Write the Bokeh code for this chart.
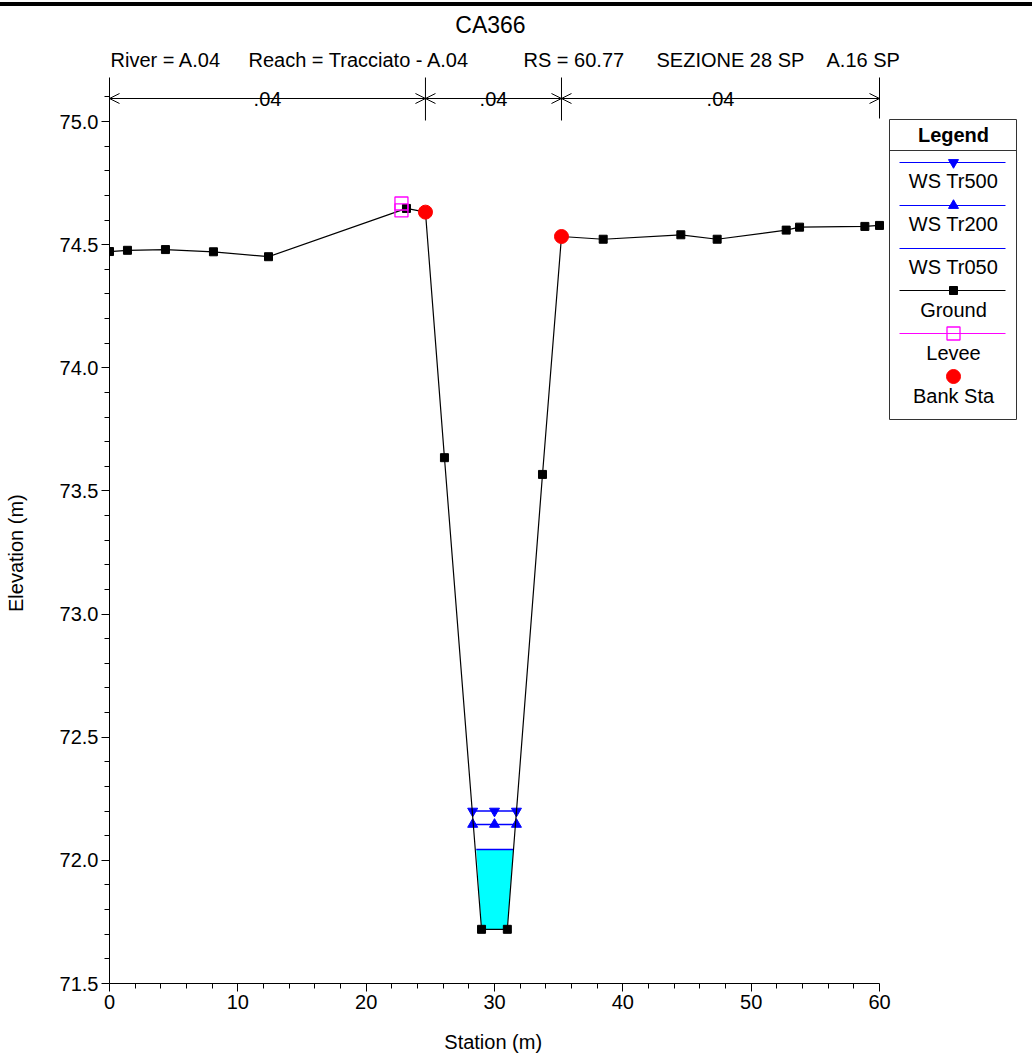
import math
from bokeh.plotting import figure
from bokeh.models import (Range1d, Arrow, OpenHead, FixedTicker, PrintfTickFormatter,
                          InlineStyleSheet)
from bokeh.core.properties import value
from bokeh.embed import file_html
from bokeh.resources import INLINE

# ---------------- data ----------------
title = "CA366"
subtitle_parts = ["River = A.04", "Reach = Tracciato - A.04", "RS = 60.77", "SEZIONE 28 SP", "A.16 SP"]
x_label = "Station (m)"
y_label = "Elevation (m)"

ground_sta = [0.0, 1.4, 4.36, 8.1, 12.39, 23.14, 24.62, 26.1, 28.99, 31.0, 33.74, 35.22,
              38.47, 44.52, 47.35, 52.73, 53.77, 58.86, 60.0]
ground_elev = [74.472, 74.477, 74.48, 74.471, 74.451, 74.647, 74.632, 73.635, 71.72, 71.72,
               73.567, 74.533, 74.522, 74.54, 74.522, 74.559, 74.571, 74.574, 74.578]

bank_sta = [24.62, 35.22]
bank_elev = [74.632, 74.533]

levee_sta = [22.75, 22.75]
levee_elev = [74.667, 74.639]

manning_edges = [0.0, 24.62, 35.22, 60.0]
manning_n = [".04", ".04", ".04"]

ws_names = ["WS Tr500", "WS Tr200", "WS Tr050"]
ws_elev = [72.20, 72.146, 72.044]
ws_left = [28.30, 28.26, 28.58]
ws_right = [31.71, 31.71, 31.46]
ws_marker_sta = [28.30, 30.0, 31.71]

water_sta = [28.58, 28.99, 31.0, 31.46]
water_elev = [72.044, 71.72, 71.72, 72.044]

x_ticks = [0, 10, 20, 30, 40, 50, 60]
x_minor = [2, 4, 6, 8, 12, 14, 16, 18, 22, 24, 26, 28, 32, 34, 36, 38, 42, 44, 46, 48, 52, 54, 56, 58]
y_ticks = [71.5, 72.0, 72.5, 73.0, 73.5, 74.0, 74.5, 75.0]
y_minor = [71.6, 71.7, 71.8, 71.9, 72.1, 72.2, 72.3, 72.4, 72.6, 72.7, 72.8, 72.9,
           73.1, 73.2, 73.3, 73.4, 73.6, 73.7, 73.8, 73.9, 74.1, 74.2, 74.3, 74.4,
           74.6, 74.7, 74.8, 74.9, 75.1]

# ---------------- layout helpers (page pixels -> data) ----------------
PXU = 770.0 / 60.0
PYU = 862.0 / 3.5
def X(px):
    return (px - 109.0) / PXU
def Y(py):
    return 75.0 - (py - 121.0) / PYU

FONT = value("Liberation Sans")
BLUE = "#0000FF"
NBSP = "\u00a0"

W, H = 1032, 1057
FRAME_L, FRAME_B = 109, 983
rule_css = InlineStyleSheet(css=":host::before { content: ''; position: absolute; left: 0; top: 1.5px; "
                                "width: 100%; height: 4px; background: black; z-index: 5; }")
p = figure(width=W, height=H, output_backend="svg", toolbar_location=None,
           x_range=Range1d(0, X(W)), y_range=Range1d(71.5, Y(0)),
           min_border_left=FRAME_L, min_border_right=0, min_border_top=0,
           min_border_bottom=H - FRAME_B, stylesheets=[rule_css])
p.grid.visible = False
p.outline_line_color = None
p.background_fill_color = "white"
p.border_fill_color = "white"

for ax in (p.xaxis[0], p.yaxis[0]):
    ax.axis_line_color = "black"
    ax.major_tick_in = 0
    ax.major_tick_out = 8
    ax.minor_tick_in = 0
    ax.minor_tick_out = 5
    ax.major_tick_line_color = "black"
    ax.minor_tick_line_color = "black"
    ax.major_label_text_font = "Liberation Sans"
    ax.major_label_text_font_size = "20px"
    ax.major_label_text_color = "black"
    ax.major_label_standoff = 3
    ax.axis_label_text_font = "Liberation Sans"
    ax.axis_label_text_font_size = "20px"
    ax.axis_label_text_font_style = "normal"
    ax.axis_label_text_color = "black"

# axis labels are centred on the frame; trailing no-break spaces re-centre them
# on the 0..60 / 71.5..75 extent as in the reference
space_w = 0.278 * 20
n_x = int(round(2 * ((FRAME_L + W) / 2.0 - 494) / space_w))
n_y = int(round(2 * (552 - FRAME_B / 2.0) / space_w))

p.xaxis[0].ticker = FixedTicker(ticks=x_ticks, minor_ticks=x_minor)
p.xaxis[0].bounds = (0, 60)
p.xaxis[0].axis_label = x_label + NBSP * n_x
p.xaxis[0].axis_label_standoff = 19
p.yaxis[0].ticker = FixedTicker(ticks=y_ticks, minor_ticks=y_minor)
p.yaxis[0].formatter = PrintfTickFormatter(format="%.1f")
p.yaxis[0].bounds = (71.5, Y(77))
p.yaxis[0].axis_label = y_label + NBSP * n_y
p.yaxis[0].axis_label_standoff = 30

# ---------------- data marks ----------------
p.patch(water_sta, water_elev, fill_color="#00FFFF", line_color=None)
for i, name in enumerate(ws_names):
    p.line([ws_left[i], ws_right[i]], [ws_elev[i], ws_elev[i]], line_color=BLUE, line_width=1.5)
p.scatter(ws_marker_sta, [ws_elev[0]] * 3, marker="inverted_triangle", size=10,
          fill_color=BLUE, line_color=BLUE)
p.scatter(ws_marker_sta, [ws_elev[1]] * 3, marker="triangle", size=10,
          fill_color=BLUE, line_color=BLUE)

p.line(ground_sta, ground_elev, line_color="black", line_width=1.2)
p.scatter(ground_sta, ground_elev, marker="square", size=8, fill_color="black", line_color="black")
p.scatter(levee_sta, levee_elev, marker="square", size=13, fill_color=None,
          line_color="#FF00FF", line_width=1.3)
p.scatter(bank_sta, bank_elev, marker="circle", size=14, fill_color="#FF0000", line_color="#FF0000")

# ---------------- Manning's n band ----------------
ya = Y(98)
for i in range(len(manning_n)):
    a, b = manning_edges[i], manning_edges[i + 1]
    p.add_layout(Arrow(start=OpenHead(size=10, line_width=1), end=OpenHead(size=10, line_width=1),
                       x_start=a, y_start=ya, x_end=b, y_end=ya, line_width=1, line_color="black"))
    c = (a + b) / 2
    p.rect(x=[c], y=[ya], width=36, height=22, width_units="screen", height_units="screen",
           fill_color="white", line_color=None)
    p.text(x=[c], y=[ya], text=[manning_n[i]], text_font=FONT, text_font_size="20px",
           text_align="center", text_baseline="middle", text_color="black")
for e in manning_edges[1:-1]:
    p.segment(x0=[e], y0=[Y(77)], x1=[e], y1=[Y(120)], line_color="black", line_width=1)
p.segment(x0=[manning_edges[-1]], y0=[Y(77)], x1=[manning_edges[-1]], y1=[Y(118)],
          line_color="black", line_width=1)

# ---------------- titles ----------------
p.text(x=[X(490)], y=[Y(24)], text=[title], text_font=FONT, text_font_size="23px",
       text_align="center", text_baseline="middle", text_color="black")
sub_left = [110, 248, 523, 656, 826]
for s, lx in zip(subtitle_parts, sub_left):
    p.text(x=[X(lx)], y=[Y(59)], text=[s], text_font=FONT, text_font_size="20px",
           text_align="left", text_baseline="middle", text_color="black")

# ---------------- legend ----------------
p.quad(left=[X(889)], right=[X(1016)], top=[Y(119)], bottom=[Y(419)],
       fill_color="white", line_color="#333333", line_width=1)
p.segment(x0=[X(889)], y0=[Y(150)], x1=[X(1016)], y1=[Y(150)], line_color="#333333")
p.text(x=[X(953)], y=[Y(134)], text=["Legend"], text_font=FONT, text_font_size="20px",
       text_font_style="bold", text_align="center", text_baseline="middle", text_color="black")

leg_line_y = [162, 205, 248, 290, 333, 376]
leg_text_y = [180, 223, 266, 309, 352, 395]
leg_labels = ws_names + ["Ground", "Levee", "Bank Sta"]
leg_colors = [BLUE, BLUE, BLUE, "black", "#FF00FF", None]
leg_markers = ["inverted_triangle", "triangle", None, "square", "square", "circle"]
lx0, lx1, lxm = X(899), X(1005), X(953)
for i in range(6):
    yy = Y(leg_line_y[i])
    if leg_colors[i] is not None:
        p.segment(x0=[lx0], y0=[yy], x1=[lx1], y1=[yy], line_color=leg_colors[i], line_width=1)
    m = leg_markers[i]
    if m == "inverted_triangle" or m == "triangle":
        p.scatter([lxm], [yy], marker=m, size=10, fill_color=BLUE, line_color=BLUE)
    elif m == "square" and i == 3:
        p.scatter([lxm], [yy], marker="square", size=8, fill_color="black", line_color="black")
    elif m == "square":
        p.scatter([lxm], [yy], marker="square", size=13, fill_color=None, line_color="#FF00FF", line_width=1.3)
    elif m == "circle":
        p.scatter([lxm], [yy], marker="circle", size=14, fill_color="#FF0000", line_color="#FF0000")
    p.text(x=[lxm], y=[Y(leg_text_y[i])], text=[leg_labels[i]], text_font=FONT,
           text_font_size="20px", text_align="center", text_baseline="middle", text_color="black")

open("out.html", "w").write(file_html(p, INLINE))
